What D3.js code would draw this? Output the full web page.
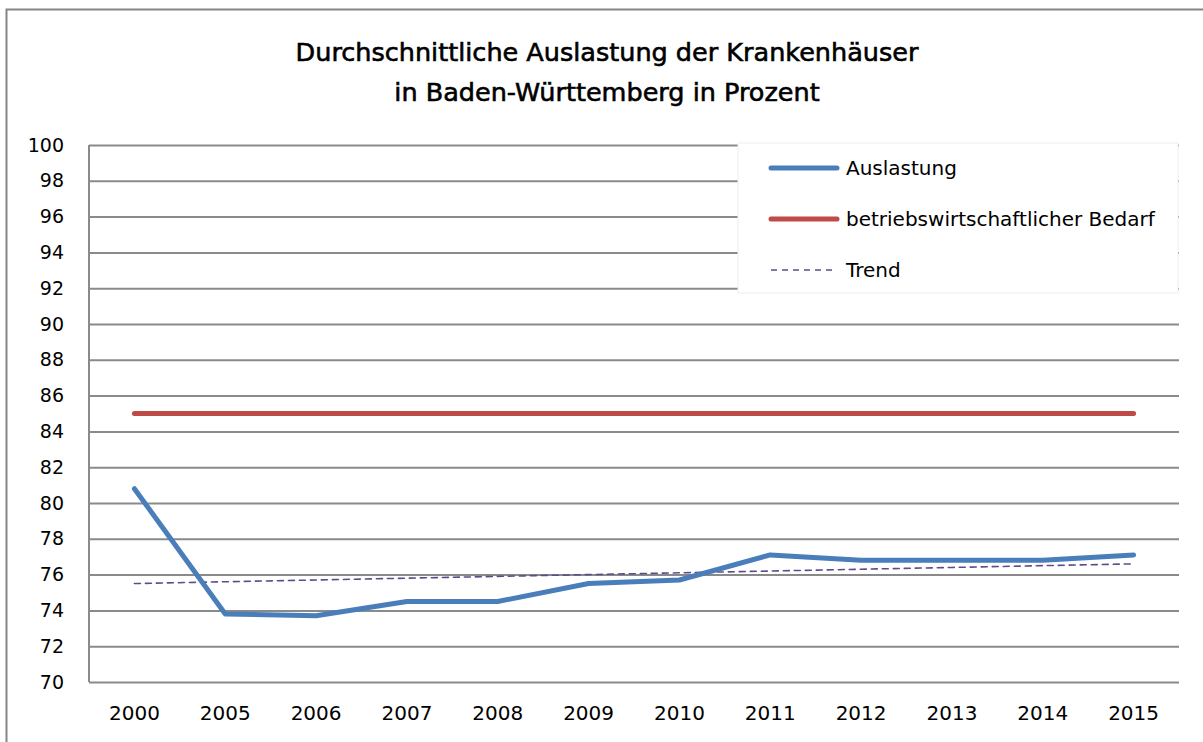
<!DOCTYPE html>
<html>
<head>
<meta charset="utf-8">
<script src="https://cdn.jsdelivr.net/npm/d3@7"></script>
<style>
  body { margin: 0; background: #fff; }
  svg { display: block; font-family: "DejaVu Sans", sans-serif; }
</style>
</head>
<body>
<svg width="1203" height="742"></svg>
<script>
// data
const years = ["2000", "2005", "2006", "2007", "2008", "2009", "2010", "2011", "2012", "2013", "2014", "2015"];
const auslastung = [80.8, 73.8, 73.7, 74.5, 74.5, 75.5, 75.7, 77.1, 76.8, 76.8, 76.8, 77.1];
const bedarf = [85, 85, 85, 85, 85, 85, 85, 85, 85, 85, 85, 85];
const trend = [75.5, 75.6, 75.7, 75.8, 75.9, 76.0, 76.1, 76.2, 76.3, 76.4, 76.5, 76.6];
const yTicks = [70, 72, 74, 76, 78, 80, 82, 84, 86, 88, 90, 92, 94, 96, 98, 100];
const titleLines = ["Durchschnittliche Auslastung der Krankenhäuser", "in Baden-Württemberg in Prozent"];
const legendItems = [
  { name: "Auslastung", color: "#4a7ebb", width: 5, dash: null },
  { name: "betriebswirtschaftlicher Bedarf", color: "#be4b48", width: 5, dash: null },
  { name: "Trend", color: "#5f4b8b", width: 1.6, dash: "6,5" }
];

const svg = d3.select("svg");
const margin = { top: 145, left: 89, bottom: 60, right: 25 };
const innerwidth = 1179 - margin.left;
const innerheight = 682 - margin.top;

// outer frame
svg.append("rect")
  .attr("x", 6.5).attr("y", 9.5)
  .attr("width", 1220).attr("height", 760)
  .attr("fill", "#fff").attr("stroke", "#868686").attr("stroke-width", 2);

// title (regular face, slightly thickened with a stroke)
svg.append("g").selectAll("text").data(titleLines)
  .enter().append("text")
    .attr("x", 607)
    .attr("y", (d, i) => 61 + i * 40)
    .attr("text-anchor", "middle")
    .attr("font-size", 25.5)
    .attr("font-family", "'DejaVu Sans', sans-serif")
    .attr("fill", "#000")
    .attr("stroke", "#000")
    .attr("stroke-width", 0.6)
    .text(d => d);

const xScale = d3.scaleBand().domain(years).range([0, innerwidth]);
const yScale = d3.scaleLinear().domain([70, 100]).range([innerheight, 0]);

const g = svg.append("g")
  .attr("transform", `translate(${margin.left}, ${margin.top})`);

// gridlines + y labels
const yAxisG = g.append("g")
  .call(d3.axisLeft(yScale).tickValues(yTicks).tickSize(-innerwidth).tickPadding(25));
yAxisG.select(".domain").remove();
yAxisG.selectAll(".tick line").attr("stroke", "#8a8a8a").attr("stroke-width", 2);
yAxisG.selectAll(".tick text")
  .attr("font-size", 19).attr("fill", "#000")
  .attr("font-family", "'DejaVu Sans', sans-serif");

// left axis line
g.append("line")
  .attr("x1", 0).attr("x2", 0).attr("y1", 0).attr("y2", innerheight)
  .attr("stroke", "#8a8a8a").attr("stroke-width", 2);

// x labels
const xAxisG = g.append("g")
  .attr("transform", `translate(0, ${innerheight})`)
  .call(d3.axisBottom(xScale).tickSize(0).tickPadding(24));
xAxisG.select(".domain").remove();
xAxisG.selectAll(".tick text")
  .attr("font-size", 20).attr("fill", "#000")
  .attr("font-family", "'DejaVu Sans', sans-serif");

// legend box (covers the top gridlines)
const lg = g.append("g").attr("transform", "translate(649, -2)");
lg.append("rect")
  .attr("width", 440).attr("height", 150)
  .attr("fill", "#fff").attr("stroke", "#eee").attr("stroke-width", 1);

const lineGen = d3.line()
  .x((d, i) => xScale(years[i]) + xScale.bandwidth() / 2)
  .y(d => yScale(d));

const series = [trend, bedarf, auslastung];
const styles = [legendItems[2], legendItems[1], legendItems[0]];
series.forEach((s, k) => {
  g.append("path")
    .datum(s)
    .attr("d", lineGen)
    .attr("fill", "none")
    .attr("stroke", styles[k].color)
    .attr("stroke-width", styles[k].width)
    .attr("stroke-dasharray", styles[k].dash)
    .attr("stroke-linejoin", "round")
    .attr("stroke-linecap", "round");
});

const items = lg.selectAll("g.item").data(legendItems)
  .enter().append("g")
    .attr("class", "item")
    .attr("transform", (d, i) => `translate(0, ${25 + i * 51})`);
items.append("line")
  .attr("x1", 33).attr("x2", 99)
  .attr("stroke", d => d.color)
  .attr("stroke-width", d => d.width)
  .attr("stroke-dasharray", d => d.dash)
  .attr("stroke-linecap", d => d.dash ? "butt" : "round");
items.append("text")
  .attr("x", 108).attr("dy", "0.35em")
  .attr("font-size", 20).attr("fill", "#000")
  .text(d => d.name);
</script>
</body>
</html>
